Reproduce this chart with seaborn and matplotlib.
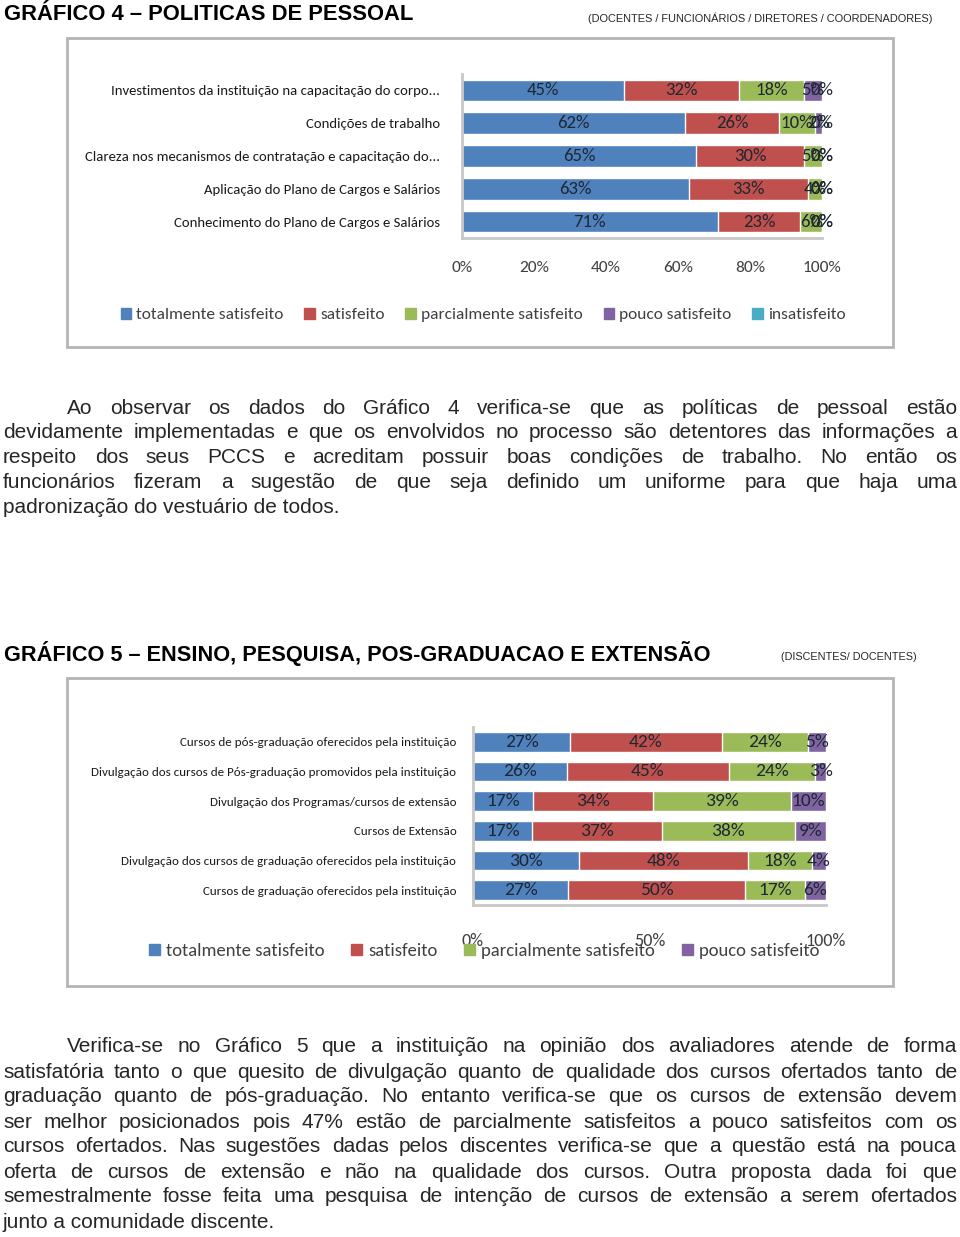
import matplotlib
matplotlib.use("Agg")
import matplotlib.pyplot as plt
import seaborn as sns
import numpy as np
import pandas as pd
from matplotlib import font_manager
from matplotlib.patches import Rectangle, Patch

# ---------------- data ----------------
cats4 = ["Investimentos da instituição na capacitação do corpo...",
         "Condições de trabalho",
         "Clareza nos mecanismos de contratação e capacitação do...",
         "Aplicação do Plano de Cargos e Salários",
         "Conhecimento do Plano de Cargos e Salários"]
series4 = ["totalmente satisfeito", "satisfeito", "parcialmente satisfeito",
           "pouco satisfeito", "insatisfeito"]
tot4 = [45, 62, 65, 63, 71]
sat4 = [32, 26, 30, 33, 23]
parc4 = [18, 10, 5, 4, 6]
pouco4 = [5, 2, 0, 0, 0]
insat4 = [0, 0, 0, 0, 0]
ticks4 = [0, 20, 40, 60, 80, 100]

cats5 = ["Cursos de pós-graduação oferecidos pela instituição",
         "Divulgação dos cursos de Pós-graduação promovidos pela instituição",
         "Divulgação dos Programas/cursos de extensão",
         "Cursos de Extensão",
         "Divulgação dos cursos de graduação oferecidos pela instituição",
         "Cursos de graduação oferecidos pela instituição"]
series5 = ["totalmente satisfeito", "satisfeito", "parcialmente satisfeito",
           "pouco satisfeito"]
tot5 = [27, 26, 17, 17, 30, 27]
sat5 = [42, 45, 34, 37, 48, 50]
parc5 = [24, 24, 39, 38, 18, 17]
pouco5 = [5, 3, 10, 9, 4, 6]
ticks5 = [0, 50, 100]

title4 = "GRÁFICO 4 – POLITICAS DE PESSOAL"
sub4 = "(DOCENTES / FUNCIONÁRIOS / DIRETORES / COORDENADORES)"
title5 = "GRÁFICO 5 – ENSINO, PESQUISA, POS-GRADUACAO E EXTENSÃO"
sub5 = "(DISCENTES/ DOCENTES)"

para1 = ["Ao observar os dados do Gráfico 4 verifica-se que as políticas de pessoal estão",
         "devidamente implementadas e que os envolvidos no processo são detentores das informações a",
         "respeito dos seus PCCS e acreditam possuir boas condições de trabalho. No então os",
         "funcionários fizeram a sugestão de que seja definido um uniforme para que haja uma",
         "padronização do vestuário de todos."]
para2 = ["Verifica-se no Gráfico 5 que a instituição na opinião dos avaliadores atende de forma",
         "satisfatória tanto o que quesito de divulgação quanto de qualidade dos cursos ofertados tanto de",
         "graduação quanto de pós-graduação. No entanto verifica-se que os cursos de extensão devem",
         "ser melhor posicionados pois 47% estão de parcialmente satisfeitos a pouco satisfeitos com os",
         "cursos ofertados. Nas sugestões dadas pelos discentes verifica-se que a questão está na pouca",
         "oferta de cursos de extensão e não na qualidade dos cursos. Outra proposta dada foi que",
         "semestralmente fosse feita uma pesquisa de intenção de cursos de extensão a serem ofertados",
         "junto a comunidade discente."]

colors = ["#4F81BD", "#C0504D", "#9BBB59", "#8064A2", "#4BACC6"]

# ---------------- setup ----------------
sns.set_theme(style="white")
names = {f.name for f in font_manager.fontManager.ttflist}
CF = next((f for f in ["Carlito", "Calibri", "Lato"] if f in names), "DejaVu Sans")
NF = next((f for f in ["Liberation Sans Narrow", "Arial Narrow"] if f in names), "Liberation Sans")
AF = "Liberation Sans" if "Liberation Sans" in names else "DejaVu Sans"
plt.rcParams['font.family'] = [CF, 'DejaVu Sans']

W, H = 960, 1237
fig = plt.figure(figsize=(W / 100, H / 100), dpi=100)
fig.patch.set_facecolor("white")


def fx(px):
    return px / W


def fy(py):
    return 1 - py / H


def stacked(ax, cats, vals, series, ticks, fs_lab, fs_tick, fs_cat, tick_pad, cat_pad):
    arr = np.array(vals, dtype=float).T  # rows x series
    pct = arr / arr.sum(axis=1, keepdims=True) * 100
    cum = np.cumsum(pct, axis=1)
    for i in reversed(range(len(series))):
        df = pd.DataFrame({"cat": cats, "v": cum[:, i]})
        sns.barplot(data=df, x="v", y="cat", orient="h", color=colors[i],
                    saturation=1, width=0.66, ax=ax, order=cats)
    for j in range(len(cats)):
        for i in range(len(series)):
            c = cum[j, i] - pct[j, i] / 2
            ax.text(c, j, f"{int(arr[j, i])}%", ha="center", va="center",
                    fontsize=fs_lab, color="#1E2733", family=[CF, 'DejaVu Sans'])
    ax.set_xlim(0, 100)
    ax.set_xticks(ticks)
    ax.set_xticklabels([f"{t}%" for t in ticks])
    ax.set_xlabel("")
    ax.set_ylabel("")
    ax.tick_params(axis="x", length=0, pad=tick_pad, labelsize=fs_tick, labelcolor="#404040")
    ax.tick_params(axis="y", length=0, pad=cat_pad, labelsize=fs_cat, labelcolor="#1a1a1a")
    for s in ["top", "right"]:
        ax.spines[s].set_visible(False)
    for s in ["left", "bottom"]:
        ax.spines[s].set_color("#C8C8C8")
        ax.spines[s].set_linewidth(2)
    ax.set_facecolor("white")
    ax.grid(False)


# frames
for (x0, y0, x1, y1) in [(67, 38, 893, 347), (67, 678, 893, 986)]:
    fig.add_artist(Rectangle((fx(x0), fy(y1)), fx(x1) - fx(x0), fy(y0) - fy(y1),
                             transform=fig.transFigure, fill=False,
                             edgecolor="#B4B4B4", linewidth=2))

# chart 4
ax1 = fig.add_axes([fx(462), fy(238), fx(822) - fx(462), (238 - 74) / H])
stacked(ax1, cats4, [tot4, sat4, parc4, pouco4, insat4], series4, ticks4,
        fs_lab=13.5, fs_tick=12.5, fs_cat=10.6, tick_pad=16.5, cat_pad=16)
ax1.legend([Patch(color=c) for c in colors], series4, loc="center",
           bbox_to_anchor=(fx(483), fy(315)), bbox_transform=fig.transFigure,
           ncol=5, frameon=False, handlelength=0.6, handleheight=0.6,
           handletextpad=0.3, columnspacing=1.2, fontsize=12.5,
           labelcolor="#404040")

# chart 5
ax2 = fig.add_axes([fx(473), fy(905), fx(826) - fx(473), (905 - 727) / H])
stacked(ax2, cats5, [tot5, sat5, parc5, pouco5], series5, ticks5,
        fs_lab=14, fs_tick=13, fs_cat=9.4, tick_pad=20.5, cat_pad=12)
ax2.legend([Patch(color=c) for c in colors[:4]], series5, loc="center",
           bbox_to_anchor=(fx(484), fy(951)), bbox_transform=fig.transFigure,
           ncol=4, frameon=False, handlelength=0.6, handleheight=0.6,
           handletextpad=0.3, columnspacing=1.45, fontsize=13.4,
           labelcolor="#404040")

# headers
fig.text(fx(4), fy(14), title4, fontsize=15.8, fontweight="bold", family=AF,
         ha="left", va="center", color="black")
fig.text(fx(932), fy(18), sub4, fontsize=7.9, family=AF, ha="right", va="center")
fig.text(fx(4), fy(653), title5, fontsize=15.7, fontweight="bold", family=NF,
         ha="left", va="center", color="black")
fig.text(fx(917), fy(657), sub5, fontsize=7.8, family=NF, ha="right", va="center")

# paragraphs (justified)
renderer = fig.canvas.get_renderer()


def width_of(s, fs):
    t = fig.text(0, 0, s, fontsize=fs, family=NF)
    w = t.get_window_extent(renderer).width
    t.remove()
    return w


def paragraph(lines, y0, fs, indent=67, left=3, right=957, step=25):
    mx = 0
    for k, ln in enumerate(lines[:-1]):
        avail = right - (indent if k == 0 else left)
        mx = max(mx, width_of(ln, fs) / avail)
    if mx > 0.985:
        fs = fs * 0.985 / mx
    for k, ln in enumerate(lines):
        yc = y0 + k * step
        x0 = indent if k == 0 else left
        if k == len(lines) - 1:
            fig.text(fx(x0), fy(yc), ln, fontsize=fs, family=NF, va="center", ha="left")
            continue
        words = ln.split()
        ts = [fig.text(0, 0, w, fontsize=fs, family=NF, va="center", ha="left") for w in words]
        ws = [t.get_window_extent(renderer).width for t in ts]
        gap = (right - x0 - sum(ws)) / (len(words) - 1)
        x = x0
        for t, w in zip(ts, ws):
            t.set_position((fx(x), fy(yc)))
            x += w + gap


paragraph(para1, 408, 15)
paragraph(para2, 1047, 15)

fig.savefig("out.png", dpi=100, facecolor="white")
